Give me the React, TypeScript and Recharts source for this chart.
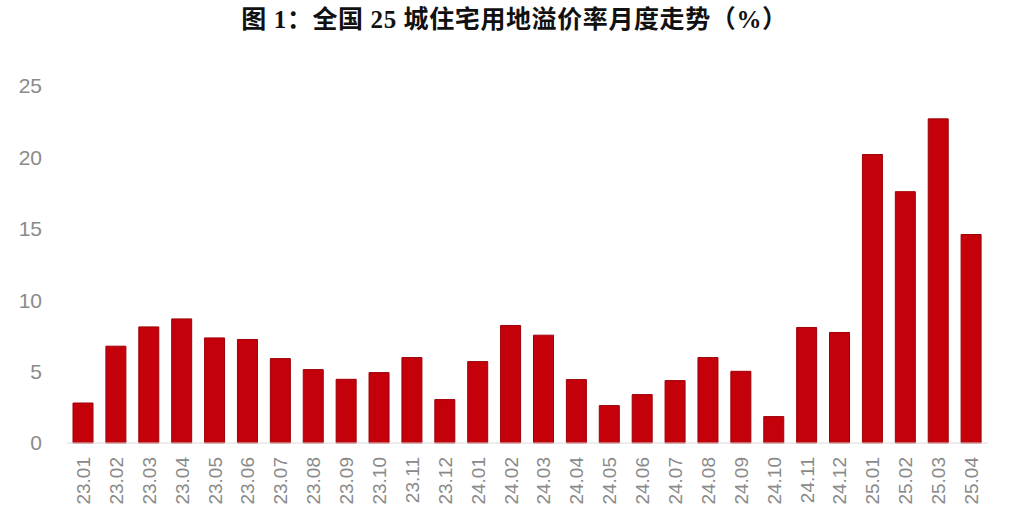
import { BarChart, Bar, XAxis, YAxis } from "recharts";

const months = [
  "23.01", "23.02", "23.03", "23.04", "23.05", "23.06", "23.07", "23.08", "23.09", "23.10",
  "23.11", "23.12", "24.01", "24.02", "24.03", "24.04", "24.05", "24.06", "24.07", "24.08",
  "24.09", "24.10", "24.11", "24.12", "25.01", "25.02", "25.03", "25.04",
];
const premiumRate = [
  2.8, 6.78, 8.13, 8.69, 7.36, 7.25, 5.91, 5.14, 4.46, 4.93,
  5.98, 3.04, 5.7, 8.23, 7.55, 4.44, 2.62, 3.39, 4.37, 5.98,
  5.02, 1.85, 8.09, 7.74, 20.2, 17.6, 22.7, 14.6,
];
const yTicks = [0, 5, 10, 15, 20, 25];

const chartData = months.map((m, i) => ({ month: m, rate: premiumRate[i] }));

const tickFont = "'Liberation Sans', Arial, sans-serif";

function MonthTick({ x, y, payload }: any) {
  return (
    <text
      x={x}
      y={y}
      transform={`rotate(-90 ${x} ${y})`}
      textAnchor="end"
      dominantBaseline="central"
      fill="#8a8a8a"
      fontSize={19}
      fontFamily={tickFont}
    >
      {payload.value}
    </text>
  );
}

export default function App() {
  return (
    <div
      style={{
        position: "absolute",
        left: 0,
        top: 0,
        width: 1029,
        height: 526,
        background: "#fff",
      }}
    >
      <div
        style={{
          position: "absolute",
          top: -1,
          left: 0,
          width: 1029,
          textAlign: "center",
          fontFamily: "'Liberation Serif', 'Noto Sans CJK SC', serif",
          fontWeight: 700,
          fontSize: 25,
          letterSpacing: 0.6,
          color: "#111",
        }}
      >
        图 1：全国 25 城住宅用地溢价率月度走势（%）
      </div>
      <BarChart
        width={1029}
        height={526}
        data={chartData}
        margin={{ top: 86, right: 41, bottom: 0, left: 0 }}
      >
        <XAxis
          dataKey="month"
          interval={0}
          height={83}
          tickLine={false}
          tickSize={0}
          tickMargin={14}
          axisLine={{ stroke: "#d9d9d9" }}
          tick={<MonthTick />}
        />
        <YAxis
          domain={[0, 25]}
          ticks={yTicks}
          width={67}
          axisLine={false}
          tickLine={false}
          tickSize={0}
          tickMargin={25}
          tick={{ fill: "#8a8a8a", fontSize: 21, fontFamily: tickFont }}
        />
        <Bar
          dataKey="rate"
          fill="#c4000a"
          stroke="#9e0008"
          strokeWidth={1}
          barSize={20}
          isAnimationActive={false}
        />
      </BarChart>
    </div>
  );
}
